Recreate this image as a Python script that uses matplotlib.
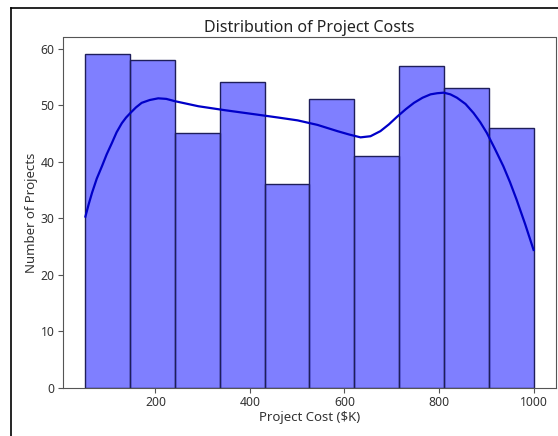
import numpy as np
import matplotlib
matplotlib.use("Agg")
import matplotlib.pyplot as plt
from matplotlib.lines import Line2D

plt.rcParams["font.family"] = ["Noto Sans", "DejaVu Sans"]

# Histogram of project costs ($K): 10 equal-width bins
bin_start = 52.0
bin_end = 1000.0
counts = [59, 58, 45, 54, 36, 51, 41, 57, 53, 46]

# Density estimate curve, scaled to counts
kde_x = [52, 59, 66, 76, 87, 97, 108, 118, 129, 138, 147, 159, 171, 188, 206,
         223, 241, 291, 347, 417, 460, 501, 543, 585, 610, 634, 655, 676, 694,
         712, 730, 747, 765, 782, 796, 810, 824, 838, 856, 873, 887, 901, 918,
         936, 950, 964, 982, 1000]
kde_y = [30.3, 32.5, 34.5, 37.0, 39.2, 41.3, 43.3, 45.2, 46.8, 47.8, 48.6,
         49.6, 50.4, 50.9, 51.2, 51.1, 50.7, 49.8, 49.1, 48.3, 47.8, 47.3,
         46.5, 45.4, 44.8, 44.3, 44.5, 45.4, 46.6, 48.0, 49.3, 50.4, 51.3,
         51.9, 52.1, 52.2, 51.9, 51.3, 50.2, 48.6, 47.0, 45.1, 42.3, 39.2,
         36.4, 33.3, 29.0, 24.4]

title = "Distribution of Project Costs"
xlabel = "Project Cost ($K)"
ylabel = "Number of Projects"

fig = plt.figure(figsize=(5.58, 4.36), dpi=100)
ax = fig.add_axes([63 / 558, 48 / 436, 493 / 558, 350.5 / 436])

edges = np.linspace(bin_start, bin_end, len(counts) + 1)
ax.bar(edges[:-1], counts, width=np.diff(edges), align="edge",
       facecolor=(0.0, 0.0, 1.0, 0.5), edgecolor="#1e1e5a", linewidth=1.0)
ax.plot(kde_x, kde_y, color="#0000c8", linewidth=1.6)

ax.set_title(title, fontsize=11.5, pad=4, color="#222222")
ax.set_xlabel(xlabel, fontsize=9.5, labelpad=1, color="#333333")
ax.set_ylabel(ylabel, fontsize=9.5, labelpad=2, color="#333333")
ax.tick_params(labelsize=8.8, color="#555555", labelcolor="#333333",
               length=3.5, pad=2.5)
ax.set_xticks([200, 400, 600, 800, 1000])
ax.set_yticks([0, 10, 20, 30, 40, 50, 60])
for s in ax.spines.values():
    s.set_color("#555555")
    s.set_linewidth(0.8)

# Frame lines along the top and left edges
fig.add_artist(Line2D([11 / 558, 1.0], [1 - 8.5 / 436, 1 - 8.5 / 436],
                      transform=fig.transFigure, color="black", linewidth=1.2))
fig.add_artist(Line2D([11 / 558, 11 / 558], [0.0, 1 - 8.5 / 436],
                      transform=fig.transFigure, color="black", linewidth=1.2))

fig.savefig("out.png", dpi=100)
